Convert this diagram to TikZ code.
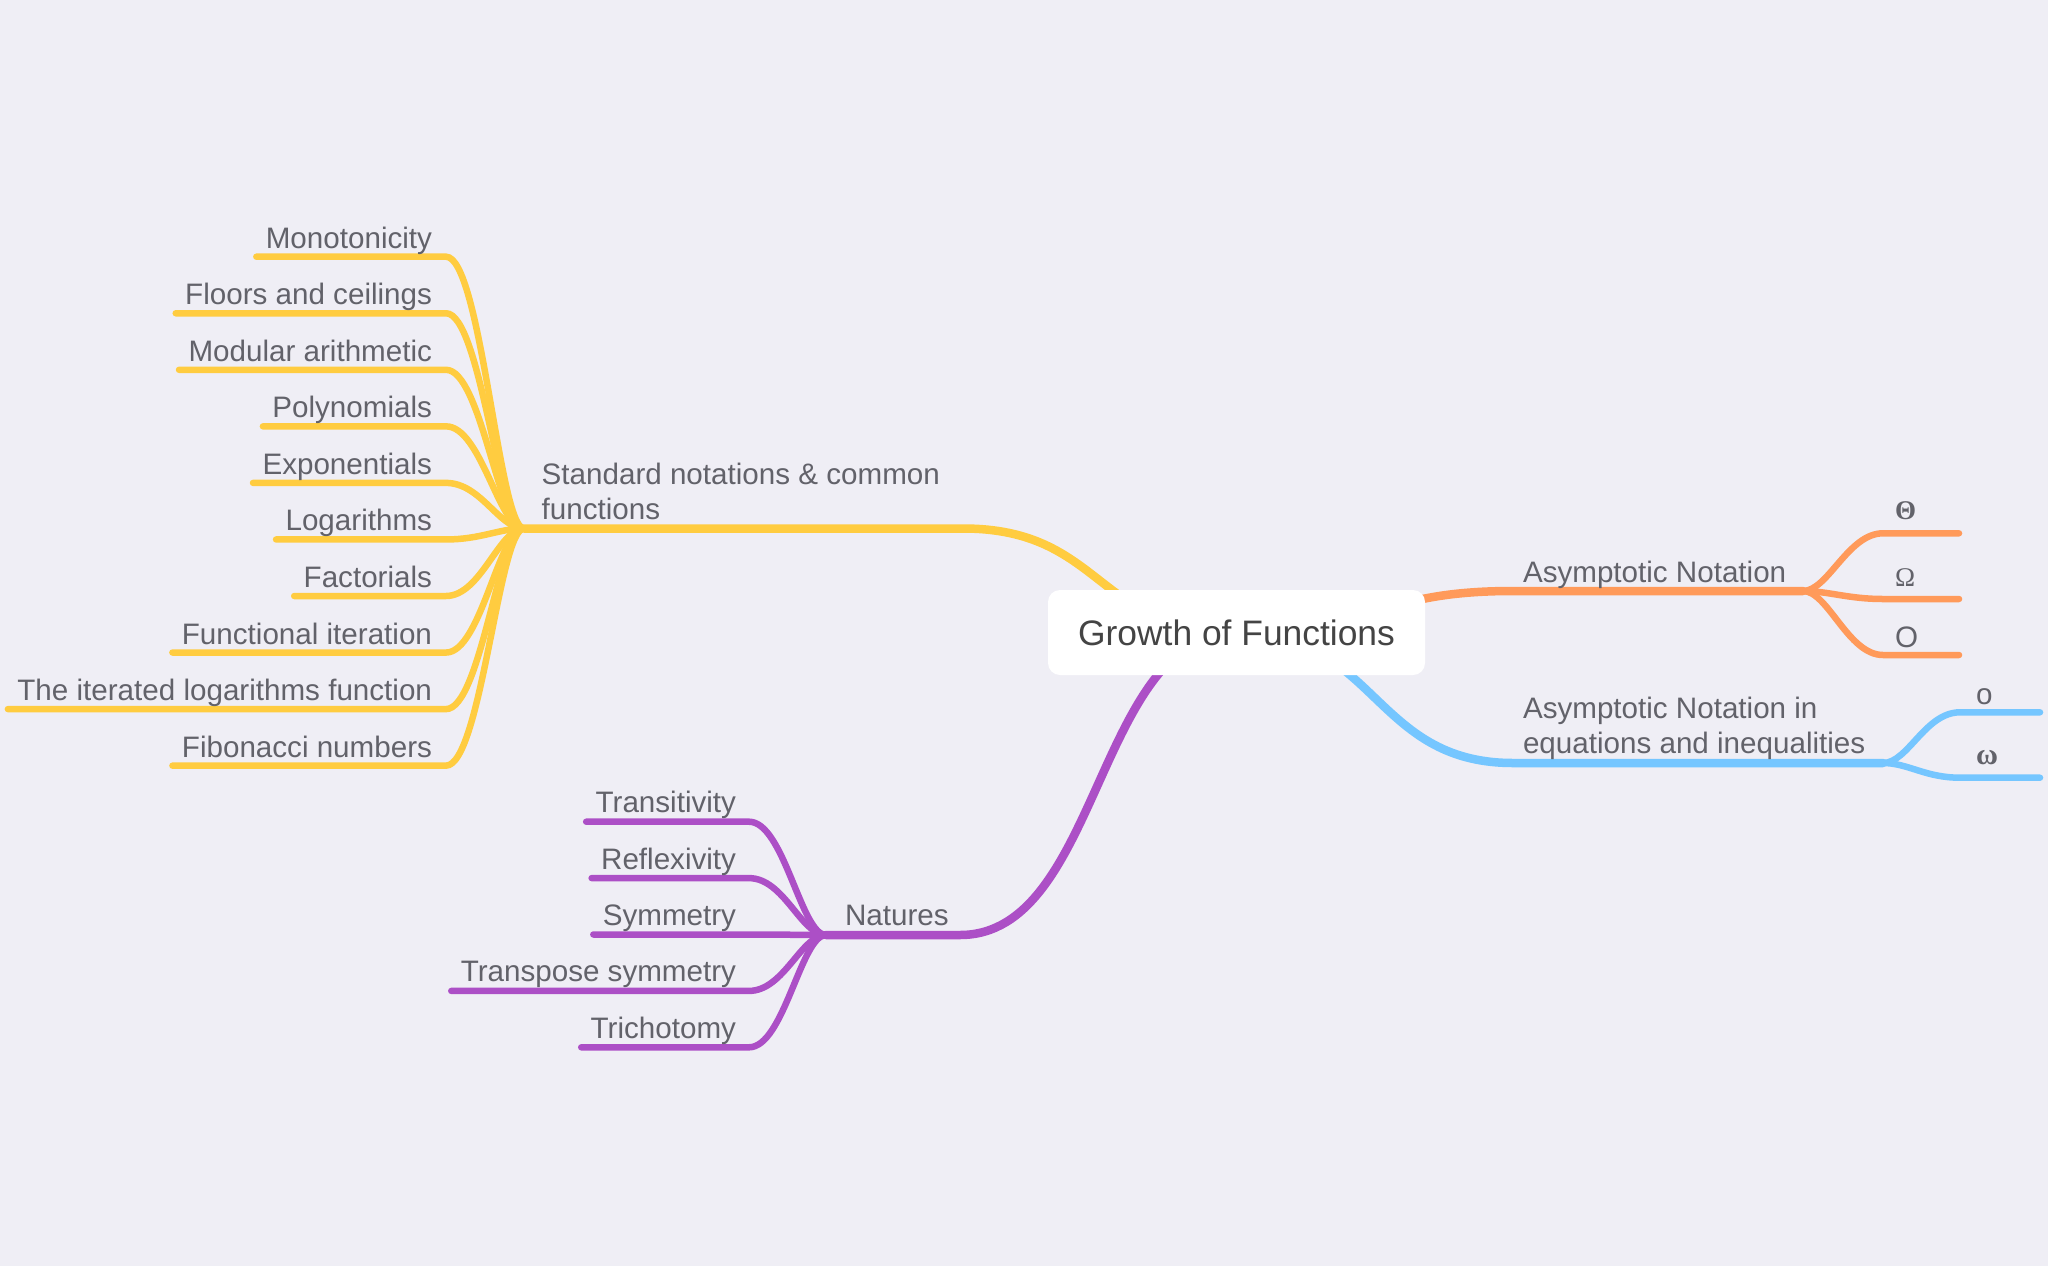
\documentclass[tikz,border=0pt]{standalone}
\usepackage{fontspec}
\setmainfont{Liberation Sans}
\newfontfamily\grkserif{Liberation Serif}
\usetikzlibrary{calc}
\definecolor{bgc}{RGB}{239,238,245}
\definecolor{cyel}{RGB}{255,204,64}
\definecolor{corg}{RGB}{255,154,90}
\definecolor{cblu}{RGB}{117,198,255}
\definecolor{cpur}{RGB}{172,79,198}
\definecolor{txt}{RGB}{98,98,106}
\definecolor{ctxt}{RGB}{68,68,68}
\pgfdeclarelayer{bglayer}
\pgfdeclarelayer{linelayer}
\pgfsetlayers{bglayer,linelayer,main}
\begin{document}
\begin{tikzpicture}[x=1pt,y=-1pt,
  lbl/.style={inner sep=0pt, outer sep=0pt, text=txt, font=\fontsize{29.6}{34.6}\selectfont},
  grk/.style={inner sep=0pt, outer sep=0pt, text=txt},
  mainline/.style={line width=8.5pt, line cap=round},
  subline/.style={line width=6.5pt, line cap=round},
  rootbox/.style={fill=white, rounded corners=12pt, minimum width=377pt, minimum height=85pt,
    inner sep=0pt, text=ctxt, font=\fontsize{35.4}{40}\selectfont}
]
\begin{pgfonlayer}{bglayer}
\fill[bgc] (0,0) rectangle (2048,1266);
\end{pgfonlayer}
\useasboundingbox (0,0) rectangle (2048,1266);

% central node
\node[rootbox] (root) at (1236.5,632.5) {Growth of Functions};

% ---------- main branch labels ----------
\node[lbl, anchor=south west, text depth=0pt, align=left] (std) at (541.7,519.3) {Standard notations \& common\\functions};
\node[lbl, anchor=base west] (nat) at (845,925.7) {Natures};
\node[lbl, anchor=base west] (asy) at (1523,582) {Asymptotic Notation};
\node[lbl, anchor=south west, text depth=0pt, align=left] (asyeq) at (1523,753) {Asymptotic Notation in\\equations and inequalities};

% ---------- coordinates ----------
\coordinate (hubY) at (524,528.5);
\coordinate (jY) at (963,528.5);
\coordinate (hubP) at (826,935);
\coordinate (jP) at (960,935);
\coordinate (jO) at (1513,591);
\coordinate (hubO) at (1803,591);
\coordinate (jB) at (1513,763);
\coordinate (hubB) at (1883,763);

\begin{pgfonlayer}{linelayer}
% main branches
\draw[mainline,cyel] (hubY) -- (jY) .. controls +(140,0) and +(-140,0) .. (root.center);
\draw[mainline,cpur] (hubP) -- (jP) .. controls +(140,0) and +(-140,0) .. (root.center);
\draw[mainline,corg] (root.center) .. controls +(140,0) and +(-140,0) .. (jO) -- (hubO);
\draw[mainline,cblu] (root.center) .. controls +(140,0) and +(-140,0) .. (jB) -- (hubB);
\end{pgfonlayer}

% ---------- yellow children ----------
\foreach \t [count=\i from 0] in {Monotonicity,Floors and ceilings,Modular arithmetic,Polynomials,Exponentials,Logarithms,Factorials,Functional iteration,The iterated logarithms function,Fibonacci numbers}{
  \pgfmathsetmacro\yy{256.7+56.55*\i}
  \coordinate (bY\i) at (446,\yy);
  \node[lbl, anchor=base east] (y\i) at (432,\yy-8.5) {\t};
  \begin{pgfonlayer}{linelayer}
  \draw[subline,cyel] (hubY) .. controls +(-25,0) and +(35,0) .. (bY\i) -- ($(y\i.west |- bY\i)+(-9.5,0)$);
  \end{pgfonlayer}
}

% ---------- purple children ----------
\foreach \t [count=\i from 0] in {Transitivity,Reflexivity,Symmetry,Transpose symmetry,Trichotomy}{
  \pgfmathsetmacro\yy{821.7+56.4*\i}
  \coordinate (bP\i) at (749,\yy);
  \node[lbl, anchor=base east] (p\i) at (736,\yy-9) {\t};
  \begin{pgfonlayer}{linelayer}
  \draw[subline,cpur] (hubP) .. controls +(-25,0) and +(35,0) .. (bP\i) -- ($(p\i.west |- bP\i)+(-9.5,0)$);
  \end{pgfonlayer}
}

% ---------- orange children ----------
\coordinate (bO1) at (1883,533.3); \coordinate (eO1) at (1959,533.3);
\coordinate (bO2) at (1883,599);   \coordinate (eO2) at (1959,599);
\coordinate (bO3) at (1883,655);   \coordinate (eO3) at (1959,655);
\node[grk, anchor=base west, font=\grkserif\bfseries\fontsize{27}{30}\selectfont] (theta) at (1895,519) {Θ};
\node[grk, anchor=base west, font=\grkserif\fontsize{27}{30}\selectfont] (omega) at (1895,586) {Ω};
\node[lbl, anchor=base west] (bigo) at (1895,647) {O};
\begin{pgfonlayer}{linelayer}
\foreach \k in {1,2,3}{
  \draw[subline,corg] (hubO) .. controls +(25,0) and +(-35,0) .. (bO\k) -- (eO\k);
}
\end{pgfonlayer}

% ---------- blue children ----------
\coordinate (bB1) at (1960,712.3); \coordinate (eB1) at (2040,712.3);
\coordinate (bB2) at (1960,777.7); \coordinate (eB2) at (2040,777.7);
\node[lbl, anchor=base west] (smallo) at (1976,704) {o};
\node[grk, anchor=base west, font=\grkserif\bfseries\fontsize{30}{32}\selectfont] (smallomega) at (1976,764) {ω};
\begin{pgfonlayer}{linelayer}
\foreach \k in {1,2}{
  \draw[subline,cblu] (hubB) .. controls +(25,0) and +(-35,0) .. (bB\k) -- (eB\k);
}
\end{pgfonlayer}
\end{tikzpicture}
\end{document}
